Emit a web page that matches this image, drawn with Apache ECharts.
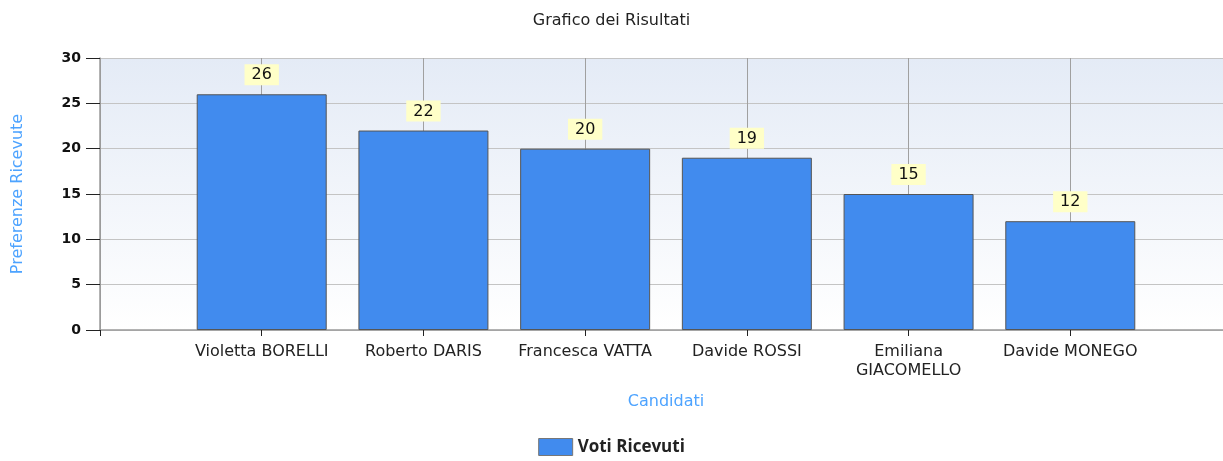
<!DOCTYPE html>
<html>
<head>
<meta charset="utf-8">
<script src="https://cdn.jsdelivr.net/npm/echarts@6/dist/echarts.min.js"></script>
<style>
  html, body { margin: 0; padding: 0; background: #fff; }
  #chart { width: 1223px; height: 461px; }
</style>
</head>
<body>
<div id="chart"></div>
<script>
// dati
const candidati = ["Violetta BORELLI", "Roberto DARIS", "Francesca VATTA", "Davide ROSSI", "Emiliana GIACOMELLO", "Davide MONEGO"];
const voti = [26, 22, 20, 19, 15, 12];
const yTicks = [0, 5, 10, 15, 20, 25, 30];

// categorie con uno spazio vuoto ai lati
const xData = [""].concat(candidati, [""]);
const yData = [null].concat(voti, [null]);

const font = "'DejaVu Sans', sans-serif";

let myChart = echarts.init(document.getElementById("chart"));

let option = {
  animation: false,
  title: {
    text: "Grafico dei Risultati",
    left: "center",
    top: 8,
    textStyle: { fontFamily: font, fontSize: 16, fontWeight: "normal", color: "#222" },
  },
  legend: {
    bottom: 0,
    left: "center",
    icon: "rect",
    itemWidth: 34,
    itemHeight: 17,
    itemGap: 6,
    data: ["Voti Ricevuti"],
    itemStyle: { borderColor: "#777", borderWidth: 1 },
    textStyle: { fontFamily: "'Open Sans', sans-serif", fontSize: 17, fontWeight: "bold", color: "#222" },
  },
  grid: {
    left: 100,
    top: 58,
    bottom: 131,
    width: 1132,
    outerBoundsMode: "none",
    show: true,
    borderWidth: 0,
    backgroundColor: new echarts.graphic.LinearGradient(0, 0, 0, 1, [
      { offset: 0, color: "#e4ebf6" },
      { offset: 1, color: "#ffffff" },
    ]),
  },
  xAxis: {
    type: "category",
    data: xData,
    boundaryGap: false,
    name: "Candidati",
    nameLocation: "middle",
    nameGap: 64,
    nameTextStyle: { fontFamily: font, fontSize: 16, color: "#4da3ff" },
    axisLine: { lineStyle: { color: "#9a9a9a", width: 1.5 } },
    axisTick: { interval: 0, length: 6, lineStyle: { color: "#222" } },
    axisLabel: {
      interval: 0,
      hideOverlap: false,
      fontFamily: font,
      fontSize: 16,
      color: "#222",
      margin: 12,
      lineHeight: 19,
      formatter: function (v) {
        return v.length > 18 ? v.replace(" ", "\n") : v;
      },
    },
    splitLine: { show: true, interval: 0, lineStyle: { color: "#a0a0a0" } },
  },
  yAxis: {
    type: "value",
    min: 0,
    max: 30,
    interval: 5,
    name: "Preferenze Ricevute",
    nameLocation: "middle",
    nameGap: 74,
    nameTextStyle: { fontFamily: font, fontSize: 16, color: "#4da3ff" },
    axisLine: { show: true, lineStyle: { color: "#9a9a9a", width: 1.5 } },
    axisTick: { show: true, length: 14, lineStyle: { color: "#222" } },
    axisLabel: {
      fontFamily: font,
      fontSize: 14,
      fontWeight: "bold",
      color: "#111",
      margin: 19,
      formatter: function (v) {
        return yTicks.indexOf(v) >= 0 ? String(v) : "";
      },
    },
    splitLine: { show: true, lineStyle: { color: "#c4c4c4" } },
  },
  series: [
    {
      name: "Voti Ricevuti",
      type: "bar",
      data: yData,
      barWidth: 130,
      itemStyle: { color: "#418bee", borderColor: "#555", borderWidth: 1 },
      label: {
        show: true,
        position: "top",
        distance: 9,
        fontFamily: font,
        fontSize: 16,
        color: "#111",
        backgroundColor: "#ffffc8",
        padding: [3, 7, 2, 7],
      },
    },
  ],
};

myChart.setOption(option);
</script>
</body>
</html>
